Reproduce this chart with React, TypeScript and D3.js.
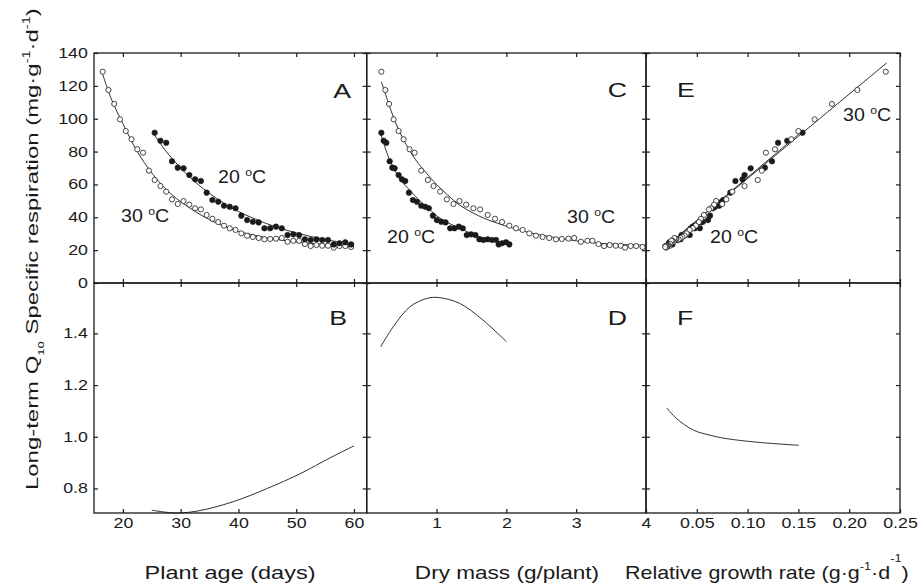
import React, { useEffect, useRef } from 'react';
import * as d3 from 'd3';

// ---- data ----
// panel A / C / E : specific respiration, one point per harvest
const days30 = [16.5, 17.5, 18.5, 19.5, 20.5, 21.5, 22.5, 23.5, 24.5, 25.5, 26.5, 27.5, 28.5, 29.5, 30.5, 31.5, 32.5, 33.5, 34.5, 35.5, 36.5, 37.5, 38.5, 39.5, 40.5, 41.5, 42.5, 43.5, 44.5, 45.5, 46.5, 47.5, 48.5, 49.5, 50.5, 51.5, 52.5, 53.5, 54.5, 55.5, 56.5, 57.5, 58.5, 59.5];
const resp30 = [128.6, 117.5, 109, 99.6, 92.5, 87.5, 81.4, 79.3, 68.4, 62.7, 59, 55.6, 50.9, 48.1, 49.9, 47.7, 45.5, 44.8, 41.4, 39.1, 37.1, 34.9, 33.3, 32.3, 30.2, 28.8, 28, 27.4, 26.6, 26.8, 27, 27.4, 25.1, 25.7, 25.7, 23.7, 22.5, 23.1, 22.7, 22.7, 21.5, 22.5, 22.5, 21.9];
const mass30 = [0.21, 0.267, 0.32, 0.386, 0.457, 0.529, 0.614, 0.686, 0.781, 0.876, 0.957, 1.052, 1.147, 1.243, 1.329, 1.424, 1.529, 1.624, 1.733, 1.838, 1.938, 2.043, 2.138, 2.233, 2.329, 2.424, 2.519, 2.614, 2.71, 2.795, 2.89, 2.971, 3.067, 3.162, 3.233, 3.319, 3.4, 3.48, 3.567, 3.638, 3.7, 3.78, 3.86, 3.95];
const rgr30 = [0.236, 0.208, 0.183, 0.166, 0.150, 0.143, 0.127, 0.118, 0.114, 0.110, 0.097, 0.085, 0.079, 0.075, 0.069, 0.067, 0.064, 0.062, 0.057, 0.054, 0.052, 0.049, 0.046, 0.043, 0.040, 0.038, 0.036, 0.034, 0.032, 0.030, 0.029, 0.028, 0.027, 0.026, 0.025, 0.024, 0.023, 0.022, 0.021, 0.021, 0.020, 0.020, 0.019, 0.019];

const days20 = [25.5, 26.5, 27.5, 28.5, 29.5, 30.5, 31.5, 32.5, 33.5, 34.5, 35.5, 36.5, 37.5, 38.5, 39.5, 40.5, 41.5, 42.5, 43.5, 44.5, 45.5, 46.5, 47.5, 48.5, 49.5, 50.5, 51.5, 52.5, 53.5, 54.5, 55.5, 56.5, 57.5, 58.5, 59.5];
const resp20 = [91.5, 86.6, 85.4, 74.1, 70.2, 69.8, 65.7, 63.1, 62.1, 55, 50.5, 49.5, 47, 46.4, 45.5, 41, 38.3, 37.3, 36.9, 33.3, 33.3, 34.3, 33.3, 29.2, 29.6, 29.2, 26.6, 26.2, 26.6, 26.2, 26.2, 23.5, 24.2, 24.8, 23.5];
const mass20 = [0.21, 0.243, 0.281, 0.329, 0.367, 0.4, 0.457, 0.505, 0.552, 0.605, 0.662, 0.719, 0.781, 0.838, 0.89, 0.948, 1.005, 1.067, 1.129, 1.195, 1.257, 1.319, 1.376, 1.433, 1.495, 1.557, 1.614, 1.671, 1.733, 1.795, 1.852, 1.89, 1.938, 1.995, 2.043];
const rgr20 = [0.154, 0.139, 0.130, 0.124, 0.117, 0.103, 0.097, 0.095, 0.088, 0.083, 0.076, 0.0745, 0.072, 0.068, 0.066, 0.063, 0.061, 0.056, 0.054, 0.053, 0.048, 0.046, 0.044, 0.043, 0.040, 0.035, 0.034, 0.031, 0.030, 0.028, 0.027, 0.026, 0.024, 0.023, 0.022];

// fitted curves
const fitA30x = [16.5, 18, 20, 22.5, 25, 27.5, 30, 35, 40, 45, 50, 55, 60];
const fitA30y = [127, 112, 97, 80, 67, 57, 49.5, 38.5, 31.5, 27.5, 25, 23.5, 22.5];
const fitA20x = [25.5, 27.5, 30, 32.5, 35, 37.5, 40, 45, 50, 55, 60];
const fitA20y = [90, 80, 70, 61.5, 54.5, 48.5, 43.5, 36, 30.5, 26.5, 23.5];
const fitC30x = [0.21, 0.3, 0.4, 0.53, 0.7, 0.857, 1.0, 1.33, 1.6, 1.81, 2.28, 2.76, 3.24, 3.6, 4.0];
const fitC30y = [122.5, 111, 99, 87, 75, 66.8, 60, 47.5, 41, 37.3, 31.2, 27.2, 24.5, 23.5, 23];
const fitC20x = [0.2, 0.3, 0.376, 0.5, 0.614, 0.75, 0.857, 1.0, 1.15, 1.33, 1.6, 1.81, 2.04];
const fitC20y = [91, 78, 70.8, 62, 56.6, 50.5, 46.4, 41, 37, 33.3, 28.5, 25.7, 23.5];
const fitE30x = [0.019, 0.237];
const fitE30y = [22, 134];
const fitE20x = [0.02, 0.155];
const fitE20y = [22.5, 93];

// long-term Q10
const q10Bx = [25, 29, 33, 39, 45, 50.5, 56, 60];
const q10By = [0.716, 0.705, 0.713, 0.748, 0.80, 0.855, 0.92, 0.965];
const q10Dx = [0.2, 0.381, 0.619, 0.857, 1.024, 1.333, 1.667, 2.0];
const q10Dy = [1.348, 1.426, 1.503, 1.535, 1.539, 1.516, 1.451, 1.368];
const q10Fx = [0.0203, 0.030, 0.0466, 0.063, 0.079, 0.112, 0.1505];
const q10Fy = [1.112, 1.071, 1.026, 1.006, 0.993, 0.978, 0.967];

// ticks
const ticksAge = [20, 30, 40, 50, 60];
const ticksMass = [1, 2, 3, 4];
const ticksRgr = [0.05, 0.10, 0.15, 0.20, 0.25];
const ticksResp = [0, 20, 40, 60, 80, 100, 120, 140];
const ticksQ10 = [0.8, 1.0, 1.2, 1.4];

const FONT = "'Liberation Sans', Arial, Helvetica, sans-serif";
const INK = '#1a1a1a';

export default function App() {
  const ref = useRef<SVGSVGElement>(null);

  useEffect(() => {
    const svg = d3.select(ref.current);
    svg.selectAll('*').remove();

    // frame positions
    const left = 94, xAr = 366.7, xCr = 646, xEr = 900;
    const top = 53, mid = 283, bottom = 513;

    const xA = d3.scaleLinear().domain([15, 62.2]).range([left, xAr]);
    const xC = d3.scaleLinear().domain([0, 4]).range([xAr, xCr]);
    const xE = d3.scaleLinear().domain([0, 0.25]).range([xCr, xEr]);
    const yR = d3.scaleLinear().domain([0, 140]).range([mid, top]);
    const yQ = d3.scaleLinear().domain([0.705, 1.595]).range([bottom, mid]);

    const SX = 1.27; // the figure's lettering is a wide face

    const styleAxis = (g: any, size: number) => {
      g.select('.domain').remove();
      g.selectAll('line').attr('stroke', INK).attr('stroke-width', 1.2);
      g.selectAll('text')
        .attr('fill', INK)
        .attr('font-family', FONT)
        .attr('font-size', size)
        .attr('transform', `scale(${SX},1)`);
    };

    const panels = [
      { x: xA, y: yR, xt: ticksAge, yt: ticksResp },
      { x: xC, y: yR, xt: ticksMass, yt: ticksResp },
      { x: xE, y: yR, xt: ticksRgr, yt: ticksResp },
      { x: xA, y: yQ, xt: ticksAge, yt: ticksQ10 },
      { x: xC, y: yQ, xt: ticksMass, yt: ticksQ10 },
      { x: xE, y: yQ, xt: ticksRgr, yt: ticksQ10 },
    ];

    // inward ticks on every side
    panels.forEach((p) => {
      const [x0, x1] = p.x.range();
      const [y0, y1] = p.y.range();
      svg.append('g').attr('transform', `translate(0,${y1})`)
        .call(d3.axisTop(p.x).tickValues(p.xt).tickSize(-4).tickFormat(() => ''))
        .call((g) => styleAxis(g, 13));
      svg.append('g').attr('transform', `translate(0,${y0})`)
        .call(d3.axisBottom(p.x).tickValues(p.xt).tickSize(-4).tickFormat(() => ''))
        .call((g) => styleAxis(g, 13));
      svg.append('g').attr('transform', `translate(${x0},0)`)
        .call(d3.axisLeft(p.y).tickValues(p.yt).tickSize(-4).tickFormat(() => ''))
        .call((g) => styleAxis(g, 13));
      svg.append('g').attr('transform', `translate(${x1},0)`)
        .call(d3.axisRight(p.y).tickValues(p.yt).tickSize(-4).tickFormat(() => ''))
        .call((g) => styleAxis(g, 13));
      svg.append('rect')
        .attr('x', x0).attr('y', y1)
        .attr('width', x1 - x0).attr('height', y0 - y1)
        .attr('fill', 'none').attr('stroke', INK).attr('stroke-width', 1.3);
    });

    // tick labels
    const fmtNum = (f: string) => (d: any) => d3.format(f)(d);
    svg.append('g').attr('transform', `translate(0,${bottom})`)
      .call(d3.axisBottom(xA).tickValues(ticksAge).tickSize(0).tickPadding(5).tickFormat(fmtNum('d')))
      .call((g) => styleAxis(g, 14));
    svg.append('g').attr('transform', `translate(0,${bottom})`)
      .call(d3.axisBottom(xC).tickValues(ticksMass).tickSize(0).tickPadding(5).tickFormat(fmtNum('d')))
      .call((g) => styleAxis(g, 14));
    svg.append('g').attr('transform', `translate(0,${bottom})`)
      .call(d3.axisBottom(xE).tickValues(ticksRgr).tickSize(0).tickPadding(5).tickFormat(fmtNum('.2f')))
      .call((g) => styleAxis(g, 14));
    svg.append('g').attr('transform', `translate(${left},0)`)
      .call(d3.axisLeft(yR).tickValues(ticksResp).tickSize(0).tickPadding(4.8).tickFormat(fmtNum('d')))
      .call((g) => styleAxis(g, 14));
    svg.append('g').attr('transform', `translate(${left},0)`)
      .call(d3.axisLeft(yQ).tickValues(ticksQ10).tickSize(0).tickPadding(4.8).tickFormat(fmtNum('.1f')))
      .call((g) => styleAxis(g, 14));

    // curves
    const curve = (xs: number[], ys: number[], sx: any, sy: any, c: any) => {
      const line = d3.line<number>()
        .x((d, i) => sx(xs[i]))
        .y((d) => sy(d))
        .curve(c);
      svg.append('path')
        .attr('d', line(ys))
        .attr('fill', 'none')
        .attr('stroke', INK)
        .attr('stroke-width', 0.9);
    };
    curve(fitA30x, fitA30y, xA, yR, d3.curveCatmullRom);
    curve(fitA20x, fitA20y, xA, yR, d3.curveCatmullRom);
    curve(fitC30x, fitC30y, xC, yR, d3.curveCatmullRom);
    curve(fitC20x, fitC20y, xC, yR, d3.curveCatmullRom);
    curve(fitE30x, fitE30y, xE, yR, d3.curveLinear);
    curve(fitE20x, fitE20y, xE, yR, d3.curveLinear);
    curve(q10Bx, q10By, xA, yQ, d3.curveCatmullRom);
    curve(q10Dx, q10Dy, xC, yQ, d3.curveCatmullRom);
    curve(q10Fx, q10Fy, xE, yQ, d3.curveCatmullRom);

    // points
    const dots = (xs: number[], ys: number[], sx: any, filled: boolean) => {
      svg.append('g').selectAll('circle')
        .data(ys)
        .enter()
        .append('circle')
        .attr('cx', (d, i) => sx(xs[i]))
        .attr('cy', (d) => yR(d))
        .attr('r', filled ? 2.8 : 2.6)
        .attr('fill', filled ? INK : '#fff')
        .attr('stroke', INK)
        .attr('stroke-width', filled ? 0.5 : 0.8);
    };
    dots(days30, resp30, xA, false);
    dots(days20, resp20, xA, true);
    dots(mass30, resp30, xC, false);
    dots(mass20, resp20, xC, true);
    dots(rgr20, resp20, xE, true);
    dots(rgr30, resp30, xE, false);

    // generic text helper (stretched horizontally like the source lettering)
    const label = (x: number, y: number, size: number, anchor: string, sx = SX, rot = 0) =>
      svg.append('text')
        .attr('transform', `translate(${x},${y}) rotate(${rot}) scale(${sx},1)`)
        .attr('font-family', FONT)
        .attr('font-size', size)
        .attr('fill', INK)
        .attr('text-anchor', anchor);

    // panel letters
    label(351, 98, 21, 'end').text('A');
    label(627, 97, 21, 'end').text('C');
    label(677, 97, 21, 'start').text('E');
    label(347, 325, 21, 'end').text('B');
    label(627, 325, 21, 'end').text('D');
    label(677, 325, 21, 'start').text('F');

    // temperature labels
    const temp = (x: number, y: number, t: string) => {
      const el = label(x, y, 17.5, 'start', 1.12);
      el.append('tspan').text(t + ' ');
      el.append('tspan').attr('font-size', 11).attr('dy', -7).text('o');
      el.append('tspan').attr('dy', 7).text('C');
    };
    temp(218, 183, '20');
    temp(121, 222, '30');
    temp(567, 223, '30');
    temp(387, 243, '20');
    temp(843, 121, '30');
    temp(710, 243, '20');

    // x axis titles
    label(230, 579, 18.5, 'middle', 1.27).text('Plant age  (days)');
    label(507, 579, 18.5, 'middle', 1.22).text('Dry mass (g/plant)');
    const rg = label(625, 579, 18.5, 'start', 1.16);
    rg.append('tspan').text('Relative growth rate (g·g');
    rg.append('tspan').attr('font-size', 11).attr('dy', -9).text('-1');
    rg.append('tspan').attr('dy', 9).text('·d');
    rg.append('tspan').attr('font-size', 11).attr('dy', -17).text('-1');
    rg.append('tspan').attr('dy', 17).text(')');

    // y axis title
    const yt = label(37.5, 490, 16.5, 'start', 1.45, -90);
    yt.append('tspan').text('Long-term Q');
    yt.append('tspan').attr('font-size', 9).attr('dy', 6).text('10');
    yt.append('tspan').attr('dy', -6).text('  Specific respiration (mg·g');
    yt.append('tspan').attr('font-size', 10).attr('dy', -8).text('-1');
    yt.append('tspan').attr('dy', 8).text('·d');
    yt.append('tspan').attr('font-size', 10).attr('dy', -8).text('-1');
    yt.append('tspan').attr('dy', 8).text(')');
  }, []);

  return (
    <svg
      ref={ref}
      width={921}
      height={586}
      style={{ position: 'absolute', left: 0, top: 0, background: '#fff' }}
    />
  );
}
